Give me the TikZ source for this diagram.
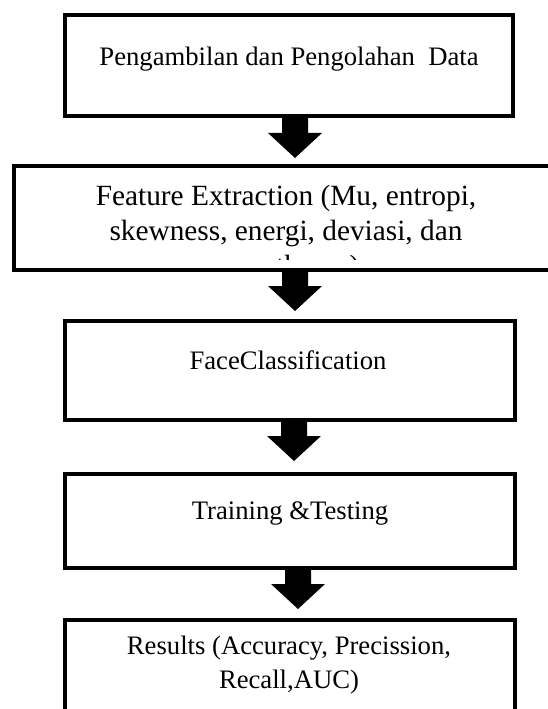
\documentclass[tikz,border=0pt]{standalone}
\usepackage{fontspec}
\setmainfont{Liberation Serif}
\usetikzlibrary{calc}

% Thick block arrow from a start point (shaft top) down to a tip point
\newcommand\blockarrow[2]{%
  \fill[black] let \p1=(#1), \p2=(#2) in
    (\x1-9.75pt,\y1) -- (\x1+9.75pt,\y1) -- (\x1+9.75pt,\y2+18.75pt)
    -- (\x1+20.25pt,\y2+18.75pt) -- (\x2,\y2) -- (\x1-20.25pt,\y2+18.75pt)
    -- (\x1-9.75pt,\y2+18.75pt) -- cycle;}

\begin{document}
\begin{tikzpicture}[x=0.75pt,y=-0.75pt,
  stepbox/.style={draw=black, line width=3pt, rectangle, inner sep=0pt},
  steptext/.style={anchor=base, inner sep=0pt, font=\fontsize{20}{25.5}\selectfont},
  bigtext/.style={anchor=base, inner sep=0pt, font=\fontsize{22}{26.5}\selectfont}]
\clip (0,0) rectangle (548,709);
\fill[white] (0,0) rectangle (548,709);

% process boxes
\node[stepbox, minimum width=336pt,   minimum height=75.75pt] (b1) at (289,65.5) {};
\node[stepbox, minimum width=408pt,   minimum height=78pt]    (b2) at (286,218) {};
\node[stepbox, minimum width=337.5pt, minimum height=74.25pt] (b3) at (290,370.5) {};
\node[stepbox, minimum width=337.5pt, minimum height=70.5pt]  (b4) at (290,521) {};
\node[stepbox, minimum width=337.5pt, minimum height=105pt]   (b5) at (290,690) {};

% box labels; the long feature list overflows its box and is cut at the inner margin
\node[steptext] (t1) at (289,66) {Pengambilan dan Pengolahan\ \ Data};
\begin{scope}
  \clip (16,168) rectangle (556,259);
  \node[bigtext] (t2) at (286,205) {\begin{tabular}[t]{@{}c@{}}Feature Extraction (Mu, entropi,\\ skewness, energi, deviasi, dan\\ smoothness)\end{tabular}};
\end{scope}
\node[steptext] (t3) at (288,369) {FaceClassification};
\node[steptext] (t4) at (290,519) {Training \&Testing};
\node[steptext] (t5) at (289,654) {\begin{tabular}[t]{@{}c@{}}Results (Accuracy, Precission,\\ Recall,AUC)\end{tabular}};

% arrows between the boxes
\coordinate (a1s) at ($(b1.south)+(6,0)$);
\coordinate (a1e) at ($(b2.north)+(9,-6)$);
\coordinate (a2s) at ($(b2.south)+(9,0)$);
\coordinate (a2e) at ($(b3.north)+(5,-8)$);
\coordinate (a3s) at ($(b3.south)+(4,0)$);
\coordinate (a3e) at ($(b4.north)+(4,-11)$);
\coordinate (a4s) at ($(b4.south)+(8,0)$);
\coordinate (a4e) at ($(b5.north)+(8,-9)$);
\blockarrow{a1s}{a1e}
\blockarrow{a2s}{a2e}
\blockarrow{a3s}{a3e}
\blockarrow{a4s}{a4e}
\end{tikzpicture}
\end{document}
